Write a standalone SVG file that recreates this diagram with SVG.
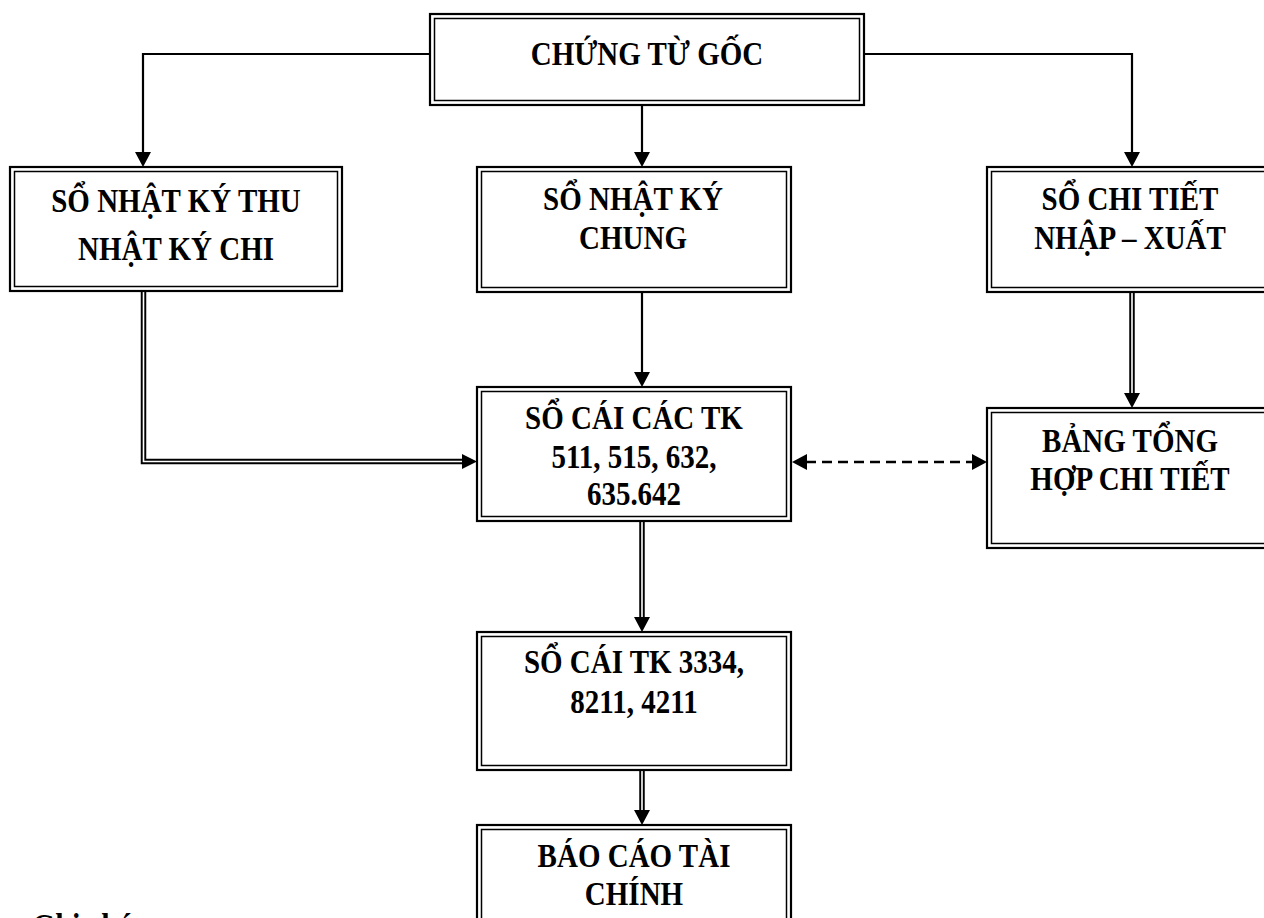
<svg xmlns="http://www.w3.org/2000/svg" width="1264" height="918" viewBox="0 0 1264 918">
  <style>
    .outer { fill: #fff; stroke: #000; stroke-width: 2.2; }
    .inner { fill: none; stroke: #000; stroke-width: 1.5; }
    .t { font-family: "Liberation Serif", "Times New Roman", serif; font-weight: bold; font-size: 29px; fill: #000; text-anchor: middle; }
    .note { font-family: "Liberation Serif", "Times New Roman", serif; font-weight: bold; font-size: 30px; fill: #000; }
    .single { fill: none; stroke: #000; stroke-width: 2.2; }
    .dbl-out { fill: none; stroke: #000; stroke-width: 5.5; stroke-linejoin: miter; }
    .dbl-in { fill: none; stroke: #fff; stroke-width: 1.6; stroke-linejoin: miter; }
    .dash { fill: none; stroke: #000; stroke-width: 2.6; stroke-dasharray: 10 6; }
    .head { fill: #000; }
  </style>
  <rect x="0" y="0" width="1264" height="918" fill="#fff"/>

  <!-- connectors -->
  <g id="connectors">
    <!-- from the source documents to the three journals -->
    <path class="single" d="M430,54 H143 V153"/>
    <polygon class="head" points="135,152 151,152 143,167"/>
    <path class="single" d="M642,105 V153"/>
    <polygon class="head" points="634,152 650,152 642,167"/>
    <path class="single" d="M864,54 H1132 V153"/>
    <polygon class="head" points="1124,152 1140,152 1132,167"/>

    <!-- journals into the general ledger -->
    <path class="dbl-out" d="M143.5,292 V461.5 H464"/>
    <path class="dbl-in" d="M143.5,292 V461.5 H464"/>
    <polygon class="head" points="462,454 462,469 477,461.5"/>
    <path class="single" d="M642,292 V373"/>
    <polygon class="head" points="634,372 650,372 642,387"/>

    <!-- detail ledger to summary table -->
    <path class="dbl-out" d="M1132,292 V395"/>
    <path class="dbl-in" d="M1132,292 V395"/>
    <polygon class="head" points="1124,393 1140,393 1132,408"/>

    <!-- reconciliation between ledger and summary -->
    <path class="dash" d="M806,462 H972"/>
    <polygon class="head" points="807,454 807,470 792,462"/>
    <polygon class="head" points="972,454 972,470 987,462"/>

    <!-- ledger to tax accounts -->
    <path class="dbl-out" d="M642,521 V619"/>
    <path class="dbl-in" d="M642,521 V619"/>
    <polygon class="head" points="634,617 650,617 642,632"/>

    <!-- tax accounts to financial statements -->
    <path class="dbl-out" d="M642,770 V812"/>
    <path class="dbl-in" d="M642,770 V812"/>
    <polygon class="head" points="634,810 650,810 642,825"/>
  </g>

  <g id="chung-tu-goc">
    <rect class="outer" x="430" y="14" width="434" height="91"/>
    <rect class="inner" x="434.5" y="18.5" width="425" height="82"/>
    <text class="t" transform="translate(647,65) scale(1,1.15)">CHỨNG TỪ GỐC</text>
  </g>

  <g id="nhat-ky-thu-chi">
    <rect class="outer" x="10" y="167" width="332" height="124"/>
    <rect class="inner" x="14.5" y="171.5" width="323" height="115"/>
    <text class="t" transform="translate(176,212) scale(1,1.15)">SỔ NHẬT KÝ THU</text>
    <text class="t" transform="translate(176,260) scale(1,1.15)">NHẬT KÝ CHI</text>
  </g>

  <g id="nhat-ky-chung">
    <rect class="outer" x="477" y="167" width="314" height="125"/>
    <rect class="inner" x="481.5" y="171.5" width="305" height="116"/>
    <text class="t" transform="translate(633,210) scale(1,1.15)">SỔ NHẬT KÝ</text>
    <text class="t" transform="translate(633,249) scale(1,1.15)">CHUNG</text>
  </g>

  <g id="so-chi-tiet">
    <rect class="outer" x="987" y="167" width="290" height="125"/>
    <rect class="inner" x="991.5" y="171.5" width="281" height="116"/>
    <text class="t" transform="translate(1130,210) scale(1,1.15)">SỔ CHI TIẾT</text>
    <text class="t" transform="translate(1130,249) scale(1,1.15)">NHẬP – XUẤT</text>
  </g>

  <g id="so-cai-cac-tk">
    <rect class="outer" x="477" y="387" width="314" height="134"/>
    <rect class="inner" x="481.5" y="391.5" width="305" height="125"/>
    <text class="t" transform="translate(634,429) scale(1,1.15)">SỔ CÁI CÁC TK</text>
    <text class="t" transform="translate(634,468) scale(1,1.15)">511, 515, 632,</text>
    <text class="t" transform="translate(634,505) scale(1,1.15)">635.642</text>
  </g>

  <g id="bang-tong-hop">
    <rect class="outer" x="987" y="408" width="290" height="140"/>
    <rect class="inner" x="991.5" y="412.5" width="281" height="131"/>
    <text class="t" transform="translate(1130,452) scale(1,1.15)">BẢNG TỔNG</text>
    <text class="t" transform="translate(1130,490) scale(1,1.15)">HỢP CHI TIẾT</text>
  </g>

  <g id="so-cai-tk-3334">
    <rect class="outer" x="477" y="632" width="314" height="138"/>
    <rect class="inner" x="481.5" y="636.5" width="305" height="129"/>
    <text class="t" transform="translate(634,673) scale(1,1.15)">SỔ CÁI TK 3334,</text>
    <text class="t" transform="translate(634,713) scale(1,1.15)">8211, 4211</text>
  </g>

  <g id="bao-cao-tai-chinh">
    <rect class="outer" x="477" y="825" width="314" height="130"/>
    <rect class="inner" x="481.5" y="829.5" width="305" height="121"/>
    <text class="t" transform="translate(634,867) scale(1,1.15)">BÁO CÁO TÀI</text>
    <text class="t" transform="translate(634,905) scale(1,1.15)">CHÍNH</text>
  </g>

  <g id="ghi-chu">
    <text class="note" transform="translate(32,937) scale(1,1.15)">Ghi chú:</text>
  </g>
</svg>
